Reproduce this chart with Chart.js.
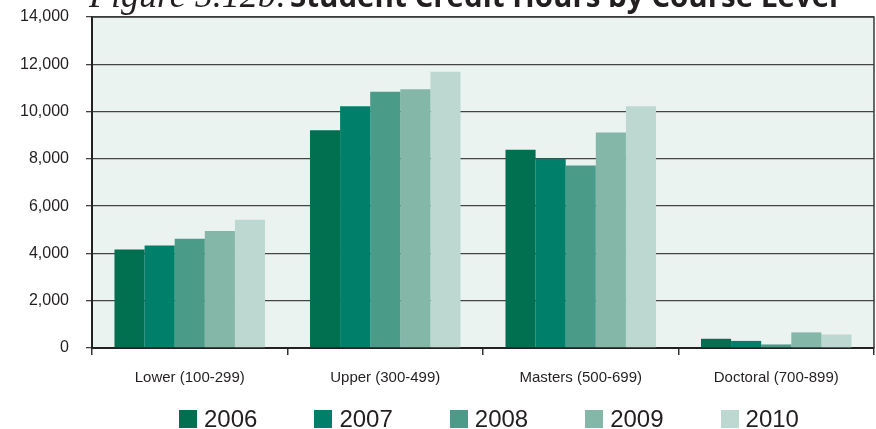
<!DOCTYPE html>
<html>
<head>
<meta charset="utf-8">
<script src="https://cdn.jsdelivr.net/npm/chart.js@4/dist/chart.umd.min.js"></script>
<style>
    html, body { margin: 0; padding: 0; background: #ffffff; }
    #wrap { width: 876px; height: 429px; position: relative; }
    #legend {
        position: absolute;
        left: 179px;
        top: 407px;
        display: flex;
        gap: 57px;
        font: 24px/24px "Liberation Sans", Arial, sans-serif;
        color: #231f20;
    }
    #legend .item { display: flex; align-items: center; gap: 7px; }
    #legend .box { width: 18px; height: 18px; }
</style>
</head>
<body>
<div id="wrap">
    <canvas id="creditChart"></canvas>
    <div id="legend"></div>
</div>
<script>

const categories = ['Lower (100-299)', 'Upper (300-499)', 'Masters (500-699)', 'Doctoral (700-899)'];

const years = ['2006', '2007', '2008', '2009', '2010'];

const hours2006 = [4170, 9210, 8390, 390];
const hours2007 = [4340, 10230, 8000, 300];
const hours2008 = [4620, 10840, 7720, 150];
const hours2009 = [4950, 10940, 9120, 660];
const hours2010 = [5420, 11680, 10230, 570];

const yTicks = [0, 2000, 4000, 6000, 8000, 10000, 12000, 14000];

const barColors = ['#007050', '#00806a', '#4a9b87', '#84b7a8', '#bdd8d0'];

const titleItalic = 'Figure 5.12b:';
const titleBold = 'Student Credit Hours by Course Level';

// plot background + frame + title
const plotFrame = {
    id: 'plotFrame',
    beforeDraw(chart) {
        const { ctx, chartArea: a } = chart;
        ctx.save();
        ctx.fillStyle = '#ebf3f1';
        ctx.fillRect(a.left, a.top, a.right - a.left, a.bottom - a.top);
        ctx.restore();
    },
    afterDraw(chart) {
        const { ctx, chartArea: a } = chart;
        ctx.save();
        ctx.strokeStyle = '#3a3a3a';
        ctx.lineWidth = 1.5;
        ctx.beginPath();
        ctx.moveTo(a.left, a.top);
        ctx.lineTo(a.right, a.top);
        ctx.lineTo(a.right, a.bottom);
        ctx.stroke();

        // title, cut off at the top like the original
        ctx.fillStyle = '#231f20';
        ctx.textBaseline = 'alphabetic';
        ctx.font = 'italic 36px "Liberation Serif"';
        ctx.fillText(titleItalic, 89, 7);
        ctx.font = 'bold 29.5px "Open Sans"';
        ctx.fillText(titleBold, 290, 7);
        ctx.restore();
    }
};

// legend as html, built from the chart's own legend items
const htmlLegend = {
    id: 'htmlLegend',
    afterUpdate(chart) {
        const box = document.getElementById('legend');
        box.innerHTML = '';
        chart.options.plugins.legend.labels.generateLabels(chart).forEach(item => {
            const el = document.createElement('div');
            el.className = 'item';
            const sw = document.createElement('span');
            sw.className = 'box';
            sw.style.background = item.fillStyle;
            const txt = document.createElement('span');
            txt.textContent = item.text;
            el.appendChild(sw);
            el.appendChild(txt);
            box.appendChild(el);
        });
    }
};

const datasets = [hours2006, hours2007, hours2008, hours2009, hours2010].map((d, i) => ({
    label: years[i],
    data: d,
    backgroundColor: barColors[i],
    borderWidth: 0,
    categoryPercentage: 0.77,
    barPercentage: 1.0
}));

new Chart(document.getElementById('creditChart'), {

    type: 'bar',

    data: {
        labels: categories,
        datasets: datasets
    },

    options: {

        responsive: true,
        maintainAspectRatio: false,
        animation: false,

        layout: {
            padding: { top: 17, right: 2, left: 20, bottom: 28 }
        },

        plugins: {
            legend: { display: false },
            tooltip: { enabled: false }
        },

        scales: {

            x: {
                afterFit(scale) {
                    scale.paddingLeft = 0;
                    scale.paddingRight = 0;
                },
                grid: {
                    offset: true,
                    drawOnChartArea: false,
                    drawTicks: true,
                    tickLength: 7,
                    color: '#333333',
                    lineWidth: 1.5
                },
                border: { color: '#222222', width: 2 },
                ticks: {
                    color: '#231f20',
                    padding: 14,
                    font: { family: 'Liberation Sans', size: 15 }
                }
            },

            y: {
                min: 0,
                max: 14000,
                afterBuildTicks(scale) {
                    scale.ticks = yTicks.map(v => ({ value: v }));
                },
                afterFit(scale) {
                    scale.width = 72;
                    scale.paddingTop = 0;
                    scale.paddingBottom = 0;
                },
                grid: {
                    color: '#444444',
                    lineWidth: 1.3,
                    tickLength: 6
                },
                border: { color: '#222222', width: 2 },
                ticks: {
                    color: '#231f20',
                    padding: 17,
                    font: { family: 'Liberation Sans', size: 16 },
                    callback: v => v.toLocaleString('en-US')
                }
            }

        }

    },

    plugins: [plotFrame, htmlLegend]

});

</script>
</body>
</html>
